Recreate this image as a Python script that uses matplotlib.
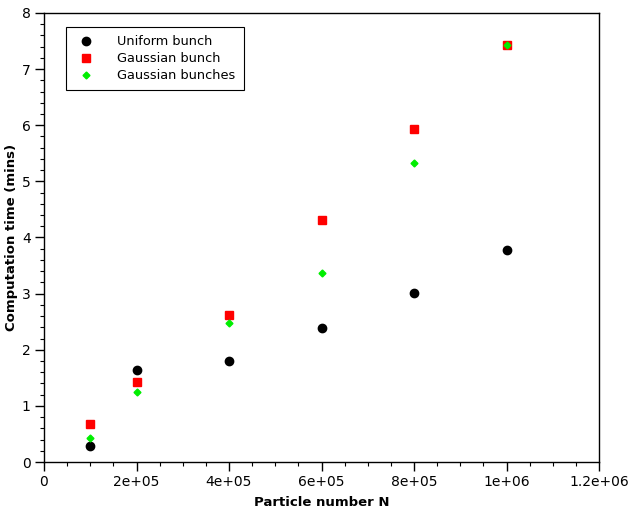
import matplotlib
matplotlib.use("Agg")
import matplotlib.pyplot as plt
from matplotlib.ticker import MultipleLocator

particles = [1e5, 2e5, 4e5, 6e5, 8e5, 1e6]
uniform_bunch = [0.28, 1.64, 1.80, 2.39, 3.02, 3.78]
gaussian_bunch = [0.68, 1.43, 2.62, 4.32, 5.93, 7.43]
gaussian_bunches = [0.43, 1.24, 2.48, 3.37, 5.33, 7.43]

x_ticks = [0, 2e5, 4e5, 6e5, 8e5, 1e6, 1.2e6]
x_tick_labels = ["0", "2e+05", "4e+05", "6e+05", "8e+05", "1e+06", "1.2e+06"]

plt.rcParams['font.family'] = ['DejaVu Sans']
fig = plt.figure(figsize=(6.29, 5.11), dpi=100)
ax = fig.add_axes([44/629, 49/511, 555/629, 449/511])

ax.plot(particles, uniform_bunch, linestyle='none', marker='o', color='black',
        markersize=6, label='Uniform bunch')
ax.plot(particles, gaussian_bunch, linestyle='none', marker='s', color='#ff0000',
        markersize=5.5, label='Gaussian bunch')
ax.plot(particles, gaussian_bunches, linestyle='none', marker='D', color='#00ee00',
        markersize=3.5, label='Gaussian bunches')

ax.set_xlim(0, 1.2e6)
ax.set_ylim(0, 8)
ax.set_xticks(x_ticks)
ax.set_xticklabels(x_tick_labels)
ax.xaxis.set_minor_locator(MultipleLocator(5e4))
ax.yaxis.set_major_locator(MultipleLocator(1))
ax.yaxis.set_minor_locator(MultipleLocator(0.2))

ax.tick_params(axis='both', which='major', direction='out', length=6.5, width=1,
               labelsize=10, colors='black', pad=3)
ax.tick_params(axis='both', which='minor', direction='out', length=3, width=0.8)
ax.tick_params(top=False, right=False, which='both')

for s in ax.spines.values():
    s.set_linewidth(1)
    s.set_color('black')

ax.set_xlabel('Particle number N', fontsize=9.5, fontweight='bold', labelpad=5)
ax.set_ylabel('Computation time (mins)', fontsize=9.5, fontweight='bold', labelpad=3)

leg = ax.legend(loc='upper left', bbox_to_anchor=(0.04, 0.969), fontsize=9.3,
                frameon=True, fancybox=False, edgecolor='black', framealpha=1,
                handletextpad=1.5, borderpad=0.65, labelspacing=0.3,
                handlelength=1.8, borderaxespad=0)
leg.get_frame().set_linewidth(0.8)

fig.savefig('out.png', dpi=100)
